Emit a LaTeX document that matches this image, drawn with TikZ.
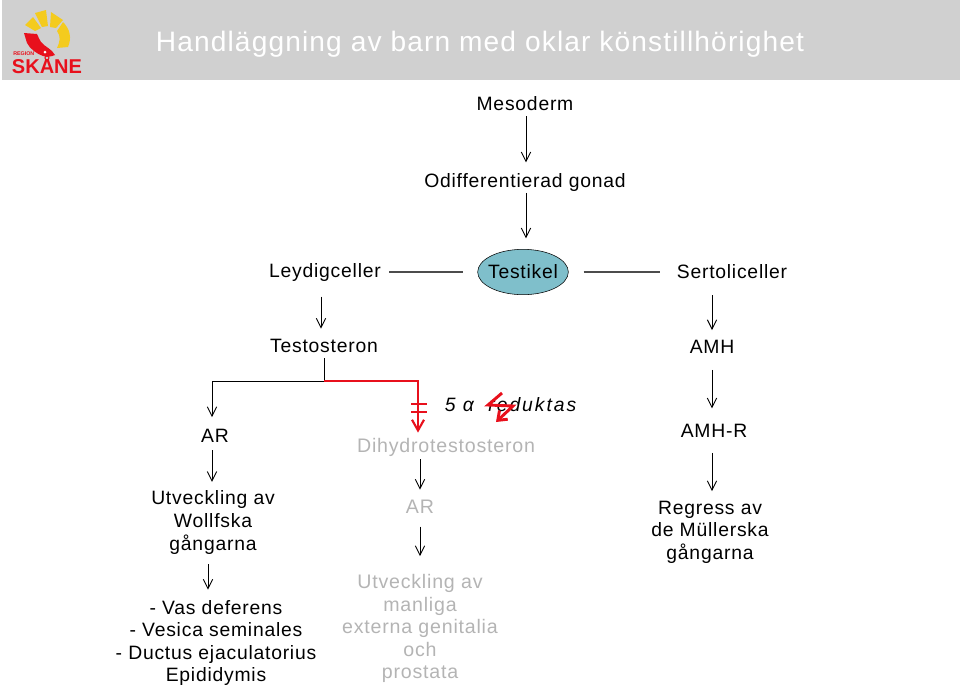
\documentclass[tikz,border=0pt]{standalone}
\usepackage{fontspec}
\setmainfont[LetterSpace=4]{Liberation Sans}
\usetikzlibrary{arrows.meta,shapes.geometric}
\definecolor{headgrey}{HTML}{D0D0D0}
\definecolor{skanered}{HTML}{E8101C}
\definecolor{skaneyellow}{HTML}{F4CB1E}
\definecolor{testikelblue}{HTML}{7FBFCB}
\definecolor{fadedgrey}{HTML}{B4B4B4}
\tikzset{
  label/.style={inner sep=0pt,align=center,font=\fontsize{14.5}{16.9}\selectfont},
  faded/.style={label,text=fadedgrey,font=\fontsize{14.7}{16.9}\selectfont},
  flow/.style={-{Straight Barb[length=7pt,width=7pt]},line width=0.7pt},
}
\begin{document}
\begin{tikzpicture}[x=0.75pt,y=-0.75pt]
  \useasboundingbox (0,0) rectangle (960,687);
  \fill[headgrey] (2,0) rectangle (960,80);
  \node[label,text=white,font=\fontsize{21.1}{24}\selectfont] (title) at (480,44.5) {Handläggning av barn med oklar könstillhörighet};

  % logo
  \fill[skaneyellow] (25,25) -- (33,17) -- (41,28) -- (35,31) -- cycle;
  \fill[skaneyellow] (35,13) -- (46,10) -- (48,26) -- (42,27) -- cycle;
  \fill[skaneyellow] (51,12) -- (63,20) -- (56,28) -- (50,27) -- cycle;
  \fill[skaneyellow] (63,22) .. controls (70,29) and (72,38) .. (68,47) -- (57,48) .. controls (60,42) and (61,36) .. (57,31) -- cycle;
  \fill[skanered] (24,33) -- (37,34) .. controls (39,37) and (39,40) .. (41,42) .. controls (45,47) and (52,49) .. (55,55) .. controls (51,57) and (46,57) .. (43,56) .. controls (37,54) and (30,49) .. (27,43) -- cycle;
  \fill[white] (45,52) circle (1.5);
  \node[inner sep=0pt,anchor=base west,text=skanered,font=\bfseries\fontsize{4}{4}\selectfont] (regionlabel) at (13,55) {\addfontfeature{LetterSpace=0}REGION};
  \node[inner sep=0pt,anchor=base,text=skanered,font=\bfseries\fontsize{15}{15}\selectfont] (skanelabel) at (47,73) {\addfontfeature{LetterSpace=0}SKÅNE};

  % middle column
  \node[label] (mesoderm) at (525,104) {Mesoderm};
  \node[label] (gonad) at (525,182) {Odifferentierad gonad};
  \node[draw,ellipse,fill=testikelblue,inner xsep=-2.2pt,inner ysep=0pt,minimum width=68pt,minimum height=34pt,font=\fontsize{14.5}{16}\selectfont] (testikel) at (523,272) {Testikel};
  \node[label] (leydig) at (325,272) {Leydigceller};
  \node[label] (sertoli) at (732,272) {Sertoliceller};
  \node[label] (testosteron) at (324,346) {Testosteron};
  \node[label] (amh) at (712,347) {AMH};
  \node[label] (arleft) at (215,436) {AR};
  \node[label] (amhr) at (714,431) {AMH-R};
  \node[label,font=\itshape\fontsize{14.5}{16.9}\selectfont] (reduktas) at (510.5,405) {\addfontfeature{LetterSpace=10}5 α \ reduktas};
  \node[faded] (dht) at (446,447) {Dihydrotestosteron};
  \node[faded] (arright) at (420,507) {AR};
  \node[label] (wollf) at (213,522.5) {Utveckling av\\Wollfska\\gångarna};
  \node[label] (regress) at (710,532) {Regress av\\de Müllerska\\gångarna};
  \node[label] (deferens) at (216,643) {- Vas deferens\\- Vesica seminales\\- Ductus ejaculatorius\\Epididymis};
  \node[faded] (manliga) at (420,628.5) {Utveckling av\\manliga\\externa genitalia\\och\\prostata};

  \coordinate (split) at (324,381);
  \coordinate (leftcorner) at (212,381);
  \coordinate (redcorner) at (418,381);

  \draw[flow] ([yshift=-3.5pt]mesoderm.south -| 526,0) -- ([yshift=7.75pt]gonad.north -| 526,0);
  \draw[flow] ([yshift=-1.25pt]gonad.south -| 526,0) -- ([yshift=8pt]testikel.north -| 526,0);
  \draw[flow] ([yshift=-11.5pt]leydig.south -| 321,0) -- ([yshift=7.75pt]testosteron.north -| 321,0);
  \draw[flow] ([yshift=-11.75pt]sertoli.south -| 712,0) -- ([yshift=7.5pt]amh.north -| 712,0);
  \draw[flow] ([yshift=-12pt]amh.south -| 712,0) -- ([yshift=11.75pt]amhr.north -| 712,0);
  \draw[flow] ([yshift=-11.25pt]amhr.south -| 712,0) -- ([yshift=7pt]regress.north -| 712,0);
  \draw[flow] (leftcorner) -- ([yshift=9pt]arleft.north -| 212,0);
  \draw[flow] ([yshift=-5.5pt]arleft.south -| 212,0) -- ([yshift=6.6pt]wollf.north -| 212,0);
  \draw[flow] ([yshift=-7.6pt]wollf.south -| 208,0) -- ([yshift=7.75pt]deferens.north -| 208,0);
  \draw[flow] ([yshift=-2.25pt]dht.south -| 420,0) -- ([yshift=7.75pt]arright.north -| 420,0);
  \draw[flow] ([yshift=-9.5pt]arright.south -| 420,0) -- ([yshift=13.4pt]manliga.north -| 420,0);

  \draw[line width=1pt,draw=black!70,shorten <=6pt,shorten >=10.5pt] (leydig) -- (testikel);
  \draw[line width=1pt,draw=black!70,shorten <=11.25pt,shorten >=12.5pt] (testikel) -- (sertoli);
  \draw[line width=0.7pt,shorten <=4pt] (testosteron.south) -- (split) -- (leftcorner);

  % red branch
  \draw[skanered,line width=1.6pt,-{Straight Barb[length=8pt,width=9pt]}] (split) -- (redcorner) -- ([yshift=3.75pt]dht.north -| redcorner);
  \draw[skanered,line width=1.5pt] (411,403.5) -- (427,403.5) (411,411.5) -- (427,411.5);
  \draw[skanered,line width=2.2pt,-{Straight Barb[length=6pt,width=9pt]}] (502,393) -- (488,405) -- (513,406) -- (496,422);
\end{tikzpicture}
\end{document}
